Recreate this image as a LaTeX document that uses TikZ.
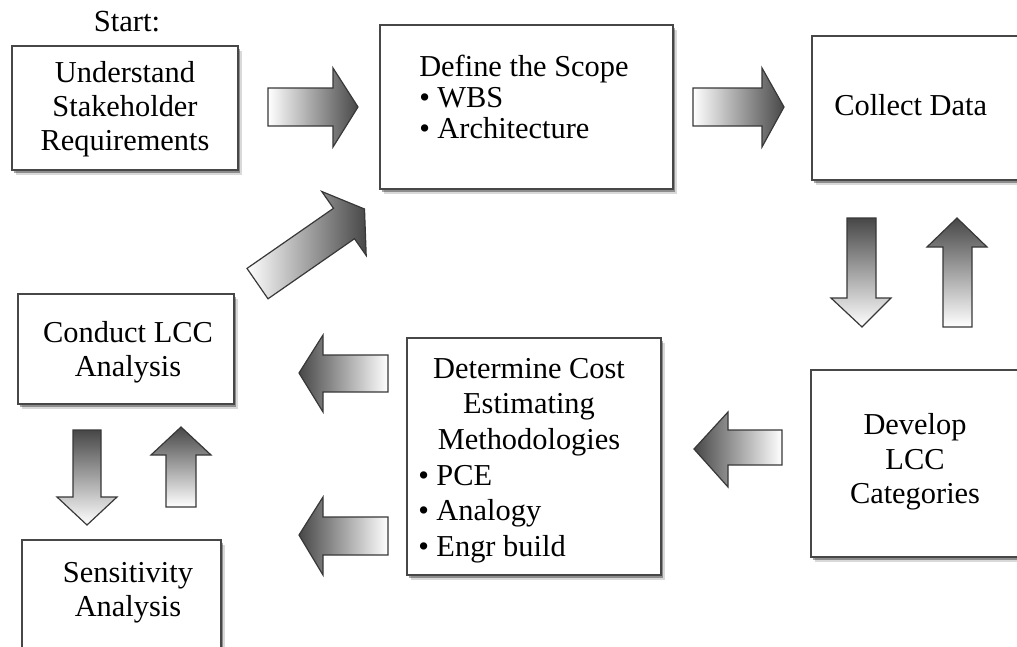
\documentclass[tikz,border=0pt]{standalone}
\usepackage{fontspec}
\setmainfont{Liberation Serif}
\usetikzlibrary{fit,shadows}

\begin{document}
\begin{tikzpicture}[
  x=0.75pt, y=-0.75pt,
  box/.style={draw=black!72, line width=1.3pt, fill=white, inner sep=0pt,
    drop shadow={shadow xshift=1.8pt, shadow yshift=-2.2pt, opacity=0.35, fill=black},
    drop shadow={shadow xshift=3.2pt, shadow yshift=-3.8pt, opacity=0.15, fill=black}},
  txt/.style={font=\fontsize{22.8}{25.5}\selectfont, inner sep=0pt, align=center},
  blk/.style={draw=black!78, line width=0.9pt, line join=miter},
  headright/.style={blk, left color=white, middle color=black!18, right color=black!72},
  headleft/.style={blk, left color=black!72, middle color=black!18, right color=white},
  vert/.style={blk, top color=black!72, middle color=black!18, bottom color=white},
]
\useasboundingbox (0,0) rectangle (1017,646);
\clip (0,0) rectangle (1017,646);

% ---- process boxes ----
\node[box, fit={(12,46)(238,170)}]   (stake) {};
\node[box, fit={(380,25)(673,189)}]  (scope) {};
\node[box, fit={(812,36)(1040,180)}] (collect) {};
\node[box, fit={(811,370)(1040,557)}] (categ) {};
\node[box, fit={(407,338)(661,575)}] (method) {};
\node[box, fit={(18,294)(234,404)}]  (lcc) {};
\node[box, fit={(22,540)(221,680)}]  (sens) {};

% ---- texts ----
\node[font=\fontsize{23}{26}\selectfont, inner sep=0pt] (start) at (127,22) {Start:};
\node[txt] (stake-t) at (125,109) {Understand\\Stakeholder\\Requirements};
\node[txt, align=left, anchor=west, font=\fontsize{22.8}{23.25}\selectfont] (scope-t) at (419,97)
  {Define the Scope\\\textbullet{} WBS\\\textbullet{} Architecture};
\node[txt, anchor=west] (collect-t) at (834,105) {Collect Data};
\node[txt, font=\fontsize{22.8}{26}\selectfont] (categ-t) at (915,462) {Develop\\LCC\\Categories};
\node[txt, font=\fontsize{22.8}{26.6}\selectfont] (method-t) at (529,407)
  {Determine Cost\\Estimating\\Methodologies};
\node[txt, align=left, anchor=west, font=\fontsize{22.8}{26.6}\selectfont] (method-b) at (418,514)
  {\textbullet{} PCE\\\textbullet{} Analogy\\\textbullet{} Engr build};
\node[txt] (lcc-t) at (128,352) {Conduct LCC\\Analysis};
\node[txt] (sens-t) at (128,593) {Sensitivity\\Analysis};

% ---- block arrows ----
% stakeholder -> scope
\shadedraw[headright] (268,88) -- (333,88) -- (333,68) -- (358,107) -- (333,147) -- (333,126) -- (268,126) -- cycle;
% scope -> collect
\shadedraw[headright] (693,88) -- (762,88) -- (762,68) -- (784,107) -- (762,147) -- (762,126) -- (693,126) -- cycle;
% collect <-> categories
\shadedraw[vert] (847,218) -- (876,218) -- (876,298) -- (891,298) -- (862,327) -- (831,298) -- (847,298) -- cycle;
\shadedraw[vert] (957,218) -- (987,247) -- (972,247) -- (972,327) -- (943,327) -- (943,247) -- (927,247) -- cycle;
% categories -> methodologies
\shadedraw[headleft] (694,449) -- (728,412) -- (728,430) -- (782,430) -- (782,465) -- (728,465) -- (728,487) -- cycle;
% methodologies -> LCC analysis
\shadedraw[headleft] (299,373) -- (323,335) -- (323,355) -- (388,355) -- (388,392) -- (323,392) -- (323,412) -- cycle;
\shadedraw[headleft] (299,535) -- (323,497) -- (323,517) -- (388,517) -- (388,555) -- (323,555) -- (323,575) -- cycle;
% LCC analysis <-> sensitivity
\shadedraw[vert] (73,430) -- (101,430) -- (101,497) -- (117,497) -- (87,525) -- (57,497) -- (73,497) -- cycle;
\shadedraw[vert] (181,427) -- (211,455) -- (196,455) -- (196,507) -- (166,507) -- (166,455) -- (151,455) -- cycle;
% LCC analysis -> scope (diagonal)
\shadedraw[headright] (247,268.4) -- (333.5,208.3) -- (321.8,191.5) -- (364.5,209) -- (366.2,255.5) -- (354.5,238.7) -- (268,298.8) -- cycle;
\end{tikzpicture}
\end{document}
